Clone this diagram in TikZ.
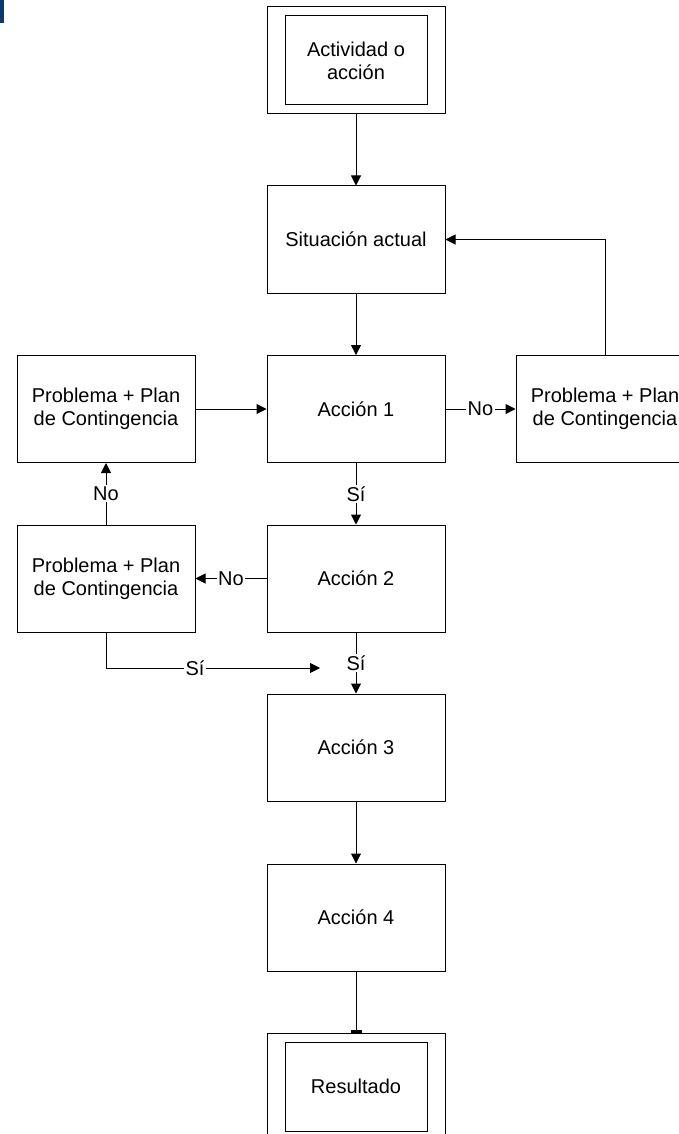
\documentclass[tikz,border=0pt]{standalone}
\usepackage{fontspec}
\setmainfont{Liberation Sans}
\usetikzlibrary{arrows.meta}
\definecolor{markblue}{RGB}{12,58,110}
\begin{document}
\begin{tikzpicture}[x=1pt,y=-1pt,
  font=\fontsize{20}{23}\selectfont,
  box/.style={draw=black, line width=1pt, minimum width=178pt, minimum height=107pt, inner sep=0pt, align=center},
  inbox/.style={draw=black, line width=1pt, minimum width=142pt, minimum height=89pt, inner sep=0pt, align=center},
  conn/.style={draw=black, line width=1pt, -{Triangle[length=10pt,width=10pt]}},
  lbl/.style={fill=white, inner sep=1.5pt}]
\useasboundingbox (0,0) rectangle (679,1134);
\clip (0,0) rectangle (679,1134);
\fill[markblue] (0,0) rectangle (4,23);
% boxes
\node[box] (topout) at (356,60.5) {};
\node[inbox] (topin) at (356,60.5) {Actividad o\\acción};
\node[box] (sit) at (356,239.5) {Situación actual};
\node[box] (a1) at (356,409) {Acción 1};
\node[box] (a2) at (356,578.5) {Acción 2};
\node[box] (a3) at (356,747.5) {Acción 3};
\node[box] (a4) at (356,917.5) {Acción 4};
\node[box] (resout) at (356,1086.5) {};
\node[inbox] (resin) at (356,1086.5) {Resultado};
\node[box] (lu) at (106,409) {Problema + Plan\\de Contingencia};
\node[box] (ll) at (106,578.5) {Problema + Plan\\de Contingencia};
\node[box] (pr) at (605,409) {Problema + Plan\\de Contingencia};
\coordinate (sj) at (320,668);
% connectors
\draw[conn] (topout.south) -- (sit.north);
\draw[conn] (sit.south) -- (a1.north);
\draw[conn] (a1.south) -- node[lbl]{Sí} (a2.north);
\draw[conn] (a2.south) -- node[lbl]{Sí} (a3.north);
\draw[conn] (a3.south) -- (a4.north);
\draw[line width=1pt, -{Bar[width=11pt,line width=3pt]}] (a4.south) -- (resout.north);
\draw[conn] (a1.east) -- node[lbl]{No} (pr.west);
\draw[conn] (pr.north) |- (sit.east);
\draw[conn] (lu.east) -- (a1.west);
\draw[conn] (a2.west) -- node[lbl]{No} (ll.east);
\draw[conn] (ll.north) -- node[lbl]{No} (lu.south);
\draw[conn] (ll.south) |- node[lbl, pos=0.708]{Sí} (sj);
\end{tikzpicture}
\end{document}
